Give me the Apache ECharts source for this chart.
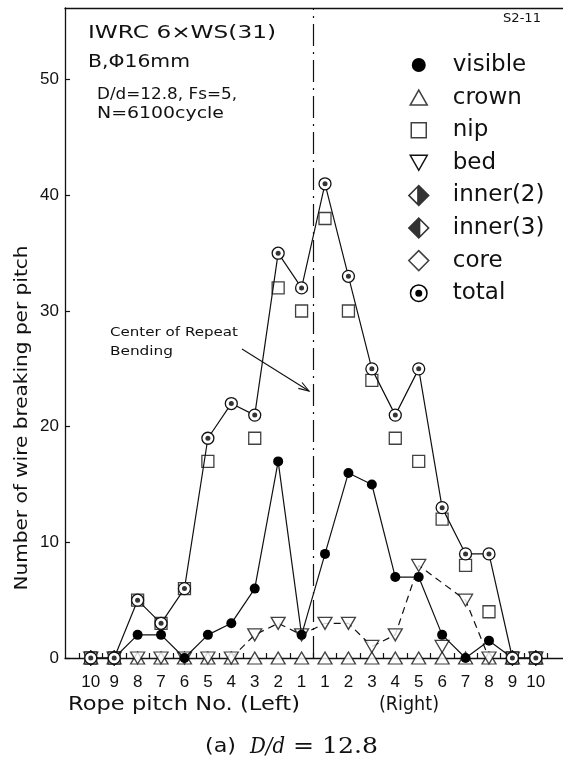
<!DOCTYPE html>
<html>
<head>
<meta charset="utf-8">
<script src="https://cdn.jsdelivr.net/npm/echarts@6/dist/echarts.min.js"></script>
<style>
  html, body { margin: 0; padding: 0; background: #fff; }
  #chart { width: 563px; height: 769px; }
</style>
</head>
<body>
<div id="chart"></div>
<script>
// Rope pitch numbers, left of the bending centre then right of it
const pitchLabels = ['10','9','8','7','6','5','4','3','2','1','1','2','3','4','5','6','7','8','9','10'];

// Wire breaks per pitch by location
const visible = [0, 0, 2, 2, 0, 2, 3, 6, 17, 2,   9, 16, 15, 7, 7, 2, 0, 1.5, 0, 0];
const crown   = [0, 0, 0, 0, 0, 0, 0, 0, 0, 0,    0, 0, 0, 0, 0, 0, 0, 0, 0, 0];
const nip     = [0, 0, 5, 3, 6, 17, null, 19, 32, 30,   38, 30, 24, 19, 17, 12, 8, 4, 0, 0];
const bed     = [0, 0, 0, 0, 0, 0, 0, 2, 3, 2,    3, 3, 1, 2, 8, 1, 5, 0, 0, 0];
const inner2  = [0, 0, null, null, null, null, null, null, null, null,   null, null, null, null, null, null, null, null, 0, 0];
const inner3  = [0, 0, null, null, null, null, null, null, null, null,   null, null, null, null, null, null, null, null, 0, 0];
const core    = [0, 0, null, null, null, null, null, null, null, null,   null, null, null, null, null, null, null, null, 0, 0];
const total   = [0, 0, 5, 3, 6, 19, 22, 21, 35, 32,   41, 33, 25, 21, 25, 13, 9, 9, 0, 0];

// Pitches joined by the dashed trend of the bed breaks
const bedTrendIdx = [6, 7, 8, 9, 10, 11, 12, 13, 14, 16, 17];

// y-axis ticks
const yTicks = [0, 10, 20, 30, 40, 50];

// x position of each pitch: the bending centre sits at 0
const pitchPos = pitchLabels.map((_, i) => i - 9.5);
const xTickPos = [];
for (let k = -10; k <= 10; k++) xTickPos.push(k);

const pts = arr => arr.map((v, i) => (v == null ? null : [pitchPos[i], v])).filter(Boolean);

const INK = '#111';
const SANS = '"DejaVu Sans", sans-serif';
const SERIF = '"DejaVu Serif", serif';

// plot symbols
const downTri = 'path://M0,0L20,0L10,17Z';
const halfRight = 'path://M10,0L20,10L10,20L0,10Z M8.5,3.6L2.1,10L8.5,16.4Z';
const halfLeft = 'path://M10,0L20,10L10,20L0,10Z M11.5,3.6L11.5,16.4L17.9,10Z';

// legend icons, each drawn inside a common 22x22 box
const BOX = ' M0,0 M22,22';
const icons = {
  visible: 'path://M4,11A7,7,0,1,1,18,11A7,7,0,1,1,4,11Z' + BOX,
  crown: 'path://M2.5,18.5L19.5,18.5L11,3.5Z' + BOX,
  nip: 'path://M3.5,3.5L18.5,3.5L18.5,18.5L3.5,18.5Z' + BOX,
  bed: 'path://M2.5,3.5L19.5,3.5L11,18.5Z' + BOX,
  inner2: 'path://M11,0L22,11L11,22L0,11Z M9.4,3.86L2.26,11L9.4,18.14Z' + BOX,
  inner3: 'path://M11,0L22,11L11,22L0,11Z M12.6,3.86L12.6,18.14L19.74,11Z' + BOX,
  core: 'path://M11,1L21,11L11,21L1,11Z' + BOX,
  total: 'path://M2,11A9,9,0,1,1,20,11A9,9,0,1,1,2,11Z M3.5,11A7.5,7.5,0,1,0,18.5,11A7.5,7.5,0,1,0,3.5,11Z M7.5,11A3.5,3.5,0,1,1,14.5,11A3.5,3.5,0,1,1,7.5,11Z' + BOX
};

const openStyle = { color: '#fff', borderColor: INK, borderWidth: 1.3 };
const openIcon = { color: '#fff', borderColor: INK, borderWidth: 1.5 };
const solidIcon = { color: '#000', borderWidth: 0 };

// text helper: stretches a string horizontally to a given width
const mctx = document.createElement('canvas').getContext('2d');
function fitText(text, x, y, font, width, extra) {
  mctx.font = font;
  const w = mctx.measureText(text).width;
  return Object.assign({
    type: 'text', x: x, y: y, scaleX: width / w, silent: true,
    style: { text: text, font: font, fill: INK, textAlign: 'left', textVerticalAlign: 'middle' }
  }, extra || {});
}

// arrow pointing at the bending centre
const arrowFrom = [242, 349], arrowTo = [309, 391];
const ang = Math.atan2(arrowTo[1] - arrowFrom[1], arrowTo[0] - arrowFrom[0]);
const headLen = 11, headAng = 0.32;
const headPts = [
  [arrowTo[0] - headLen * Math.cos(ang - headAng), arrowTo[1] - headLen * Math.sin(ang - headAng)],
  arrowTo,
  [arrowTo[0] - headLen * Math.cos(ang + headAng), arrowTo[1] - headLen * Math.sin(ang + headAng)]
];

const yTitle = fitText('Number of wire breaking per pitch', 22, 418, '18px ' + SANS, 345, { rotation: Math.PI / 2 });
yTitle.style.textAlign = 'center';

const chart = echarts.init(document.getElementById('chart'), null, { renderer: 'canvas' });

chart.setOption({
  backgroundColor: '#fff',
  animation: false,
  grid: { left: 65, right: 0, top: 8, bottom: 111 },
  xAxis: [{
    type: 'value', min: -10.6, max: 10.66,
    axisLine: { onZero: false, lineStyle: { color: INK, width: 1.3 } },
    axisTick: { inside: true, length: 5, customValues: xTickPos, lineStyle: { color: INK, width: 1.2 } },
    axisLabel: {
      customValues: pitchPos,
      formatter: v => pitchLabels[Math.round(v + 9.5)],
      color: INK, fontSize: 17, fontFamily: '"Liberation Sans", Arial, sans-serif', margin: 16
    },
    splitLine: { show: false }
  }, {
    type: 'value', position: 'top', min: -10.6, max: 10.66,
    axisLine: { show: true, onZero: false, lineStyle: { color: INK, width: 1.3 } },
    axisTick: { show: false }, axisLabel: { show: false }, splitLine: { show: false }
  }],
  yAxis: {
    type: 'value', min: 0, max: 56.2, interval: 10, position: 'left',
    axisLine: { show: true, onZero: false, lineStyle: { color: INK, width: 1.3 } },
    axisTick: { inside: true, length: 5, customValues: yTicks, lineStyle: { color: INK, width: 1.2 } },
    axisLabel: {
      customValues: yTicks,
      color: INK, fontSize: 17, fontFamily: '"Liberation Sans", Arial, sans-serif', margin: 6
    },
    splitLine: { show: false }
  },
  legend: {
    orient: 'vertical', left: 407, top: 52, padding: 0, itemGap: 6.6,
    itemWidth: 22, itemHeight: 22, selectedMode: false,
    textStyle: { fontFamily: SANS, fontSize: 23, color: INK, lineHeight: 26, padding: [0, 0, 0, 18] },
    data: [
      { name: 'visible', icon: icons.visible, itemStyle: solidIcon },
      { name: 'crown', icon: icons.crown, itemStyle: openIcon },
      { name: 'nip', icon: icons.nip, itemStyle: openIcon },
      { name: 'bed', icon: icons.bed, itemStyle: openIcon },
      { name: 'inner(2)', icon: icons.inner2, itemStyle: solidIcon },
      { name: 'inner(3)', icon: icons.inner3, itemStyle: solidIcon },
      { name: 'core', icon: icons.core, itemStyle: openIcon },
      { name: 'total', icon: icons.total, itemStyle: solidIcon }
    ]
  },
  series: [
    {
      name: 'bed', type: 'line', z: 2, silent: true,
      data: bedTrendIdx.map(i => [pitchPos[i], bed[i]]),
      symbol: 'none',
      lineStyle: { color: INK, width: 1.2, type: [7, 5] }
    },
    {
      name: 'crown', type: 'scatter', z: 3, silent: true,
      data: pts(crown), symbol: 'triangle', symbolSize: [14, 12], itemStyle: openStyle
    },
    {
      name: 'bed', type: 'scatter', z: 3, silent: true,
      data: pts(bed), symbol: downTri, symbolSize: [14, 12], itemStyle: openStyle
    },
    {
      name: 'core', type: 'scatter', z: 3, silent: true,
      data: pts(core), symbol: 'diamond', symbolSize: [12, 14], itemStyle: openStyle
    },
    {
      name: 'inner(2)', type: 'scatter', z: 3, silent: true,
      data: pts(inner2), symbol: 'diamond', symbolSize: [12, 14], itemStyle: openStyle
    },
    {
      name: 'inner(2)', type: 'scatter', z: 4, silent: true,
      data: pts(inner2), symbol: halfRight, symbolSize: [12, 14], itemStyle: { color: '#000' }
    },
    {
      name: 'inner(3)', type: 'scatter', z: 3, silent: true,
      data: pts(inner3), symbol: 'diamond', symbolSize: [12, 14], itemStyle: openStyle
    },
    {
      name: 'inner(3)', type: 'scatter', z: 4, silent: true,
      data: pts(inner3), symbol: halfLeft, symbolSize: [12, 14], itemStyle: { color: '#000' }
    },
    {
      name: 'nip', type: 'scatter', z: 4, silent: true,
      data: pts(nip), symbol: 'rect', symbolSize: 12, itemStyle: openStyle
    },
    {
      name: 'visible', type: 'line', z: 5, silent: true,
      data: pts(visible), symbol: 'circle', symbolSize: 10, showAllSymbol: true,
      itemStyle: { color: '#000', borderWidth: 0 },
      lineStyle: { color: INK, width: 1.2 }
    },
    {
      name: 'total', type: 'line', z: 6, silent: true,
      data: pts(total), symbol: 'circle', symbolSize: 12, showAllSymbol: true,
      itemStyle: openStyle,
      lineStyle: { color: INK, width: 1.2 },
      markLine: {
        silent: true, symbol: 'none', label: { show: false },
        lineStyle: { color: INK, width: 1.2, type: [22, 6, 2, 6] },
        data: [{ xAxis: 0 }]
      }
    },
    {
      name: 'total', type: 'scatter', z: 7, silent: true,
      data: pts(total), symbol: 'circle', symbolSize: 5, itemStyle: { color: '#000' }
    }
  ],
  graphic: [
    fitText('IWRC 6×WS(31)', 88, 33, '18px ' + SANS, 188),
    fitText('B,Φ16mm', 88, 62, '18px ' + SANS, 102),
    fitText('D/d=12.8, Fs=5,', 97, 95, '15px ' + SANS, 140),
    fitText('N=6100cycle', 97, 114, '15px ' + SANS, 127),
    fitText('S2-11', 503, 19, '13px ' + SANS, 38),
    fitText('Center of Repeat', 110, 333, '13px ' + SANS, 128),
    fitText('Bending', 110, 352, '13px ' + SANS, 63),
    {
      type: 'line', silent: true,
      shape: { x1: arrowFrom[0], y1: arrowFrom[1], x2: arrowTo[0], y2: arrowTo[1] },
      style: { stroke: INK, lineWidth: 1.1 }
    },
    {
      type: 'polyline', silent: true,
      shape: { points: headPts },
      style: { stroke: INK, lineWidth: 1.1, fill: null }
    },
    yTitle,
    fitText('Rope pitch No. (Left)', 68, 705, '19px ' + SANS, 232),
    fitText('(Right)', 379, 705, '19px ' + SANS, 60),
    fitText('(a)', 205, 747, '20px ' + SANS, 31),
    fitText('D/d', 250, 747, 'italic 22px ' + SERIF, 35),
    fitText('= 12.8', 293, 747, '22px ' + SERIF, 85)
  ]
});
</script>
</body>
</html>
